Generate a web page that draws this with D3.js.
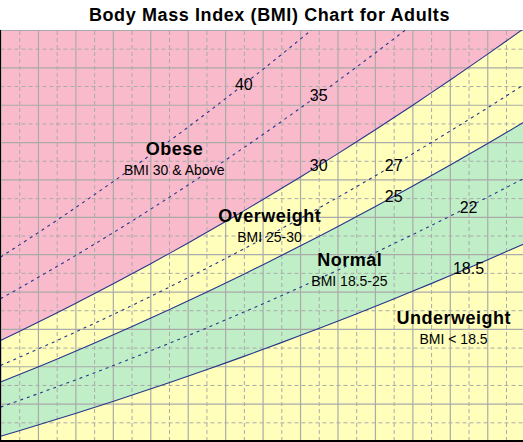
<!DOCTYPE html>
<html>
<head>
<meta charset="utf-8">
<script src="https://cdn.jsdelivr.net/npm/d3@7"></script>
<style>
  html, body { margin: 0; padding: 0; background: #ffffff; }
  svg { display: block; font-family: "Liberation Sans", Arial, sans-serif; }
</style>
</head>
<body>
<svg id="chart" width="523" height="442"></svg>
<script>
// ---- data ----
const heightsIn = [56,57,58,59,60,61,62,63,64,65,66,67,68,69,70,71,72,73,74,75,76,77,78,79,80,81,82,83,84];
const heightTicks = [56,58,60,62,64,66,68,70,72,74,76,78,80,82,84];
const heightMinorTicks = [57,59,61,63,65,67,69,71,73,75,77,79,81,83];
const weightTicks = [80,100,120,140,160,180,200,220,240,260,280,300];
const weightMinorTicks = [90,110,130,150,170,190,210,230,250,270,290];
const bmiLines = [18.5, 22, 25, 27, 30, 35, 40];
const bmiSolid = [true, false, true, false, true, false, false];
const bmiLabels = ["18.5", "22", "25", "27", "30", "35", "40"];
const bmiLabelHeights = [81, 81, 77, 77, 73, 73, 69];
const zoneNames = ["Obese", "Overweight", "Normal", "Underweight"];
const zoneRanges = ["BMI 30 & Above", "BMI 25-30", "BMI 18.5-25", "BMI < 18.5"];
const zoneLabelHeights = [65.28, 70.37, 74.64, 80.2];
const zoneLabelWeights = [233.1, 197.4, 173.7, 142.7];

// ---- layout ----
const svg = d3.select("#chart");
const x = d3.scaleLinear().domain([56, 84]).range([0.5, 524.7]);
const y = d3.scaleLinear().domain([80, 300]).range([441, 30]);
const weightOf = (bmi, h) => bmi * h * h / 703;

svg.append("text")
  .attr("x", 269.5).attr("y", 21)
  .attr("text-anchor", "middle")
  .attr("font-size", 18).attr("font-weight", "bold")
  .attr("letter-spacing", 0.6)
  .attr("fill", "#000")
  .text("Body Mass Index (BMI) Chart for Adults");

svg.append("clipPath").attr("id", "plotclip")
  .append("rect")
  .attr("x", x(56)).attr("y", y(300))
  .attr("width", x(84) - x(56)).attr("height", y(80) - y(300));

const plot = svg.append("g").attr("clip-path", "url(#plotclip)");

// zone fills
plot.append("rect")
  .attr("x", x(56)).attr("y", y(300))
  .attr("width", x(84) - x(56)).attr("height", y(80) - y(300))
  .attr("fill", "#f9bbcb");

const fillArea = bmi => d3.area()
  .x(h => x(h))
  .y0(y(80) + 5)
  .y1(h => y(weightOf(bmi, h)))(heightsIn);

plot.append("path").attr("d", fillArea(30)).attr("fill", "#ffffbb");
plot.append("path").attr("d", fillArea(25)).attr("fill", "#c0efc7");
plot.append("path").attr("d", fillArea(18.5)).attr("fill", "#ffffbb");

// grid via axes
const gridColor = "#aaaaaa";
const gMinorX = plot.append("g").attr("transform", `translate(0,${y(80)})`)
  .call(d3.axisBottom(x).tickValues(heightMinorTicks).tickSize(-(y(80) - y(300))).tickFormat(""));
const gMinorY = plot.append("g").attr("transform", `translate(${x(56)},0)`)
  .call(d3.axisLeft(y).tickValues(weightMinorTicks).tickSize(-(x(84) - x(56))).tickFormat(""));
[gMinorX, gMinorY].forEach(g => {
  g.select(".domain").remove();
  g.selectAll("line").attr("stroke", gridColor).attr("stroke-width", 1).attr("stroke-dasharray", "4,3");
});
const gMajorX = plot.append("g").attr("transform", `translate(0,${y(80)})`)
  .call(d3.axisBottom(x).tickValues(heightTicks).tickSize(-(y(80) - y(300))).tickFormat(""));
const gMajorY = plot.append("g").attr("transform", `translate(${x(56)},0)`)
  .call(d3.axisLeft(y).tickValues(weightTicks).tickSize(-(x(84) - x(56))).tickFormat(""));
[gMajorX, gMajorY].forEach(g => {
  g.select(".domain").remove();
  g.selectAll("line").attr("stroke", gridColor).attr("stroke-width", 1.2);
});

// BMI curves
const lineGen = bmi => d3.line()
  .x(h => x(h))
  .y(h => y(weightOf(bmi, h)))(heightsIn);

bmiLines.forEach((bmi, i) => {
  plot.append("path")
    .attr("d", lineGen(bmi))
    .attr("fill", "none")
    .attr("stroke", "#27358c")
    .attr("stroke-width", 1.1)
    .attr("stroke-dasharray", bmiSolid[i] ? null : "3,4");
});

// axis lines
svg.append("line").attr("x1", 0.5).attr("x2", 0.5).attr("y1", y(300)).attr("y2", y(80) + 1)
  .attr("stroke", "#000").attr("stroke-width", 1);
svg.append("line").attr("x1", 0).attr("x2", 523).attr("y1", y(80)).attr("y2", y(80))
  .attr("stroke", "#000").attr("stroke-width", 2);

// BMI labels
bmiLines.forEach((bmi, i) => {
  const h = bmiLabelHeights[i];
  svg.append("text")
    .attr("x", x(h)).attr("y", y(weightOf(bmi, h)))
    .attr("dy", "0.36em")
    .attr("text-anchor", "middle")
    .attr("font-size", 16)
    .attr("fill", "#000")
    .text(bmiLabels[i]);
});

// zone labels
zoneNames.forEach((name, i) => {
  const cx = x(zoneLabelHeights[i]);
  const by = y(zoneLabelWeights[i]);
  svg.append("text")
    .attr("x", cx + 0.3).attr("y", by)
    .attr("text-anchor", "middle")
    .attr("font-size", 18).attr("font-weight", "bold")
    .attr("letter-spacing", 0.5)
    .attr("fill", "#000")
    .text(name);
  svg.append("text")
    .attr("x", cx).attr("y", by + 20.5)
    .attr("text-anchor", "middle")
    .attr("font-size", 14)
    .attr("fill", "#000")
    .text(zoneRanges[i]);
});
</script>
</body>
</html>
